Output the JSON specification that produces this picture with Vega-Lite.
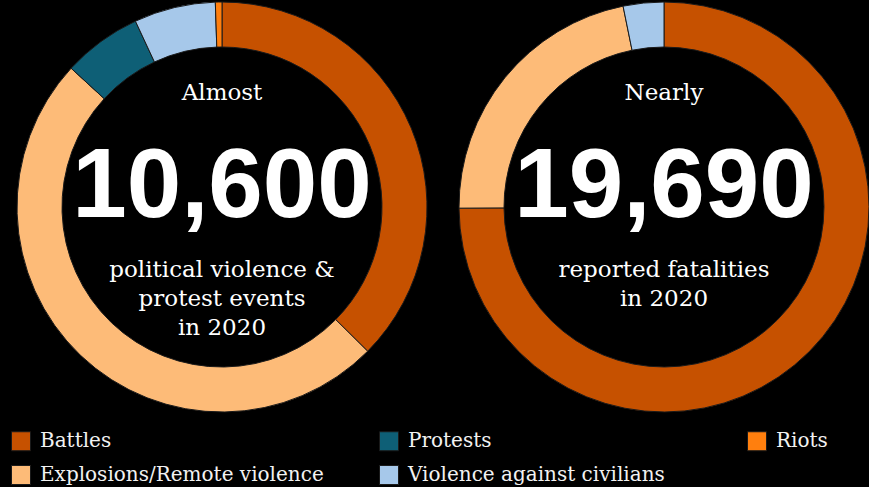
{
  "$schema": "https://vega.github.io/schema/vega-lite/v6.json",
  "background": "#000000",
  "padding": {"left": 11, "top": 0, "right": 0, "bottom": 0},
  "config": {"view": {"stroke": null}, "concat": {"spacing": 20}},
  "datasets": {
    "slices": [
      {"chart": "events", "type": "Battles", "value": 3965},
      {"chart": "events", "type": "Explosions/Remote violence", "value": 5235},
      {"chart": "events", "type": "Protests", "value": 660},
      {"chart": "events", "type": "Violence against civilians", "value": 680},
      {"chart": "events", "type": "Riots", "value": 55},
      {"chart": "fatalities", "type": "Battles", "value": 14750},
      {"chart": "fatalities", "type": "Explosions/Remote violence", "value": 4310},
      {"chart": "fatalities", "type": "Violence against civilians", "value": 630}
    ]
  },
  "resolve": {"scale": {"color": "shared"}, "legend": {"color": "shared"}},
  "hconcat": [
    {
      "width": 422,
      "height": 414,
      "layer": [
        {
          "data": {"name": "slices"},
          "transform": [
            {"filter": "datum.chart === 'events'"},
            {"calculate": "indexof(['Battles','Explosions/Remote violence','Protests','Violence against civilians','Riots'], datum.type)", "as": "k"}
          ],
          "mark": {"type": "arc", "outerRadius": 205, "innerRadius": 160, "stroke": "#1a1a1a", "strokeWidth": 1},
          "encoding": {
            "theta": {"field": "value", "type": "quantitative", "stack": true},
            "order": {"field": "k", "type": "quantitative"},
            "color": {
              "field": "type",
              "type": "nominal",
              "scale": {
                "domain": ["Battles", "Protests", "Riots", "Explosions/Remote violence", "Violence against civilians"],
                "range": ["#c65100", "#0e5f76", "#ff7f0e", "#fdbb78", "#a6c8ea"]
              },
              "legend": {
                "title": null,
                "orient": "bottom",
                "offset": 17,
                "columns": 3,
                "gridAlign": "all",
                "columnPadding": 53,
                "rowPadding": 10,
                "symbolType": "square",
                "symbolSize": 361,
                "symbolStrokeColor": "#3a1a00",
                "symbolStrokeWidth": 1,
                "labelOffset": 9,
                "labelFont": "DejaVu Serif",
                "labelFontSize": 20,
                "labelColor": "#f2f2f2",
                "labelLimit": 400
              }
            }
          }
        },
        {
          "data": {"values": [{"label": "Almost"}]},
          "mark": {"type": "text", "font": "DejaVu Serif", "fontSize": 23, "color": "#ffffff", "baseline": "alphabetic", "dy": -107},
          "encoding": {"text": {"field": "label", "type": "nominal"}}
        },
        {
          "data": {"values": [{"label": "10,600"}]},
          "mark": {"type": "text", "font": "Liberation Sans", "fontWeight": "bold", "fontSize": 98, "color": "#ffffff", "baseline": "alphabetic", "dy": 10},
          "encoding": {"text": {"field": "label", "type": "nominal"}}
        },
        {
          "data": {"values": [{"label": "political violence &\nprotest events\nin 2020"}]},
          "mark": {"type": "text", "font": "DejaVu Serif", "fontSize": 23, "color": "#ffffff", "baseline": "alphabetic", "dy": 70, "lineBreak": "\n", "lineHeight": 29},
          "encoding": {"text": {"field": "label", "type": "nominal"}}
        }
      ]
    },
    {
      "width": 422,
      "height": 414,
      "layer": [
        {
          "data": {"name": "slices"},
          "transform": [
            {"filter": "datum.chart === 'fatalities'"},
            {"calculate": "indexof(['Battles','Explosions/Remote violence','Protests','Violence against civilians','Riots'], datum.type)", "as": "k"}
          ],
          "mark": {"type": "arc", "outerRadius": 205, "innerRadius": 160, "stroke": "#1a1a1a", "strokeWidth": 1},
          "encoding": {
            "theta": {"field": "value", "type": "quantitative", "stack": true},
            "order": {"field": "k", "type": "quantitative"},
            "color": {
              "field": "type",
              "type": "nominal",
              "scale": {
                "domain": ["Battles", "Protests", "Riots", "Explosions/Remote violence", "Violence against civilians"],
                "range": ["#c65100", "#0e5f76", "#ff7f0e", "#fdbb78", "#a6c8ea"]
              }
            }
          }
        },
        {
          "data": {"values": [{"label": "Nearly"}]},
          "mark": {"type": "text", "font": "DejaVu Serif", "fontSize": 23, "color": "#ffffff", "baseline": "alphabetic", "dy": -107},
          "encoding": {"text": {"field": "label", "type": "nominal"}}
        },
        {
          "data": {"values": [{"label": "19,690"}]},
          "mark": {"type": "text", "font": "Liberation Sans", "fontWeight": "bold", "fontSize": 98, "color": "#ffffff", "baseline": "alphabetic", "dy": 10},
          "encoding": {"text": {"field": "label", "type": "nominal"}}
        },
        {
          "data": {"values": [{"label": "reported fatalities\nin 2020"}]},
          "mark": {"type": "text", "font": "DejaVu Serif", "fontSize": 23, "color": "#ffffff", "baseline": "alphabetic", "dy": 70, "lineBreak": "\n", "lineHeight": 29},
          "encoding": {"text": {"field": "label", "type": "nominal"}}
        }
      ]
    }
  ]
}
